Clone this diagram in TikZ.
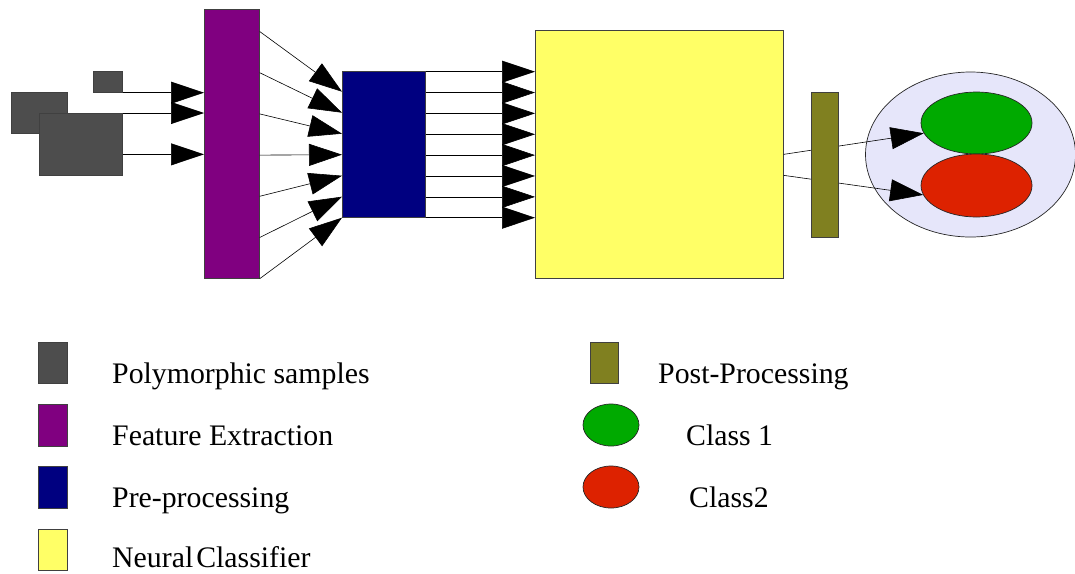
\documentclass[tikz,border=0pt]{standalone}
\usepackage{fontspec}
\setmainfont{Liberation Serif}
\usetikzlibrary{arrows.meta,shapes.geometric,calc}
\definecolor{sampgrey}{HTML}{4D4D4D}
\definecolor{featpurple}{HTML}{800080}
\definecolor{prenavy}{HTML}{000080}
\definecolor{nnyellow}{HTML}{FFFF66}
\definecolor{postolive}{HTML}{808020}
\definecolor{cgreen}{HTML}{00AA00}
\definecolor{cred}{HTML}{DD2200}
\definecolor{lavender}{HTML}{E6E6FA}
\tikzset{
  box/.style={rectangle, draw=black!75, line width=0.7pt, inner sep=0pt, anchor=north west},
  oval/.style={ellipse, draw=black!85, line width=0.7pt, inner sep=0pt},
  arr/.style={draw=black, line width=0.6pt, -{Triangle[length=33pt,width=22pt]}},
  lbl/.style={anchor=base west, inner sep=0pt, font=\fontsize{29.8}{34}\selectfont}
}
\begin{document}
\begin{tikzpicture}[x=1pt,y=-1pt]
\useasboundingbox (0,0) rectangle (1075,573);

% input samples
\node[box, fill=sampgrey, minimum width=56pt, minimum height=41pt] (ps2) at (11,92) {};
\node[box, fill=sampgrey, minimum width=83pt, minimum height=62pt] (ps3) at (39,113) {};
\node[box, fill=sampgrey, minimum width=29pt, minimum height=21pt] (ps1) at (93,71) {};

% processing stages
\node[box, fill=featpurple, minimum width=55pt, minimum height=269pt] (fe) at (204,9) {};
\node[box, fill=prenavy, minimum width=83pt, minimum height=146pt] (pp) at (342,71) {};
\node[box, fill=nnyellow, minimum width=248pt, minimum height=248pt] (nc) at (535,30) {};

% samples -> feature extraction
\draw[arr] (ps1.south east) -- (ps1.south east -| fe.west);
\draw[arr] (ps3.north east) -- (ps3.north east -| fe.west);
\coordinate (s3) at ([yshift=-10pt]ps3.east);
\draw[arr] (s3) -- (s3 -| fe.west);

% feature extraction -> pre-processing
\foreach \k in {0,...,6}{
  \draw[arr] ([yshift=41.2*\k pt]fe.south east) -- ([yshift=21*\k pt]pp.south west);
}

% pre-processing -> classifier
\foreach \k in {0,...,7}{
  \coordinate (b\k) at ([yshift=20.86*\k pt]pp.south east);
  \draw[arr] (b\k) -- (b\k -| nc.west);
}

% output classes
\node[oval, fill=lavender, minimum width=210pt, minimum height=165pt] (out) at (970.5,154.5) {};
\node[oval, fill=cgreen, minimum width=111pt, minimum height=62pt] (c1) at (976.5,123) {};
\node[oval, fill=cred, minimum width=111pt, minimum height=63pt] (c2) at (976.5,185.5) {};

\draw[arr] (nc.east) -- (c1.191);
\draw[arr] ([yshift=-21pt]nc.east) -- (c2.190);

% post-processing bar over the output lines
\node[box, fill=postolive, minimum width=27pt, minimum height=145pt] (post) at (811,92) {};

% legend, left column
\node[box, fill=sampgrey, minimum width=29pt, minimum height=41pt] (lg1) at (38,342) {};
\node[box, fill=featpurple, minimum width=29pt, minimum height=42pt] (lg2) at (38,404) {};
\node[box, fill=prenavy, minimum width=29pt, minimum height=42pt] (lg3) at (38,466) {};
\node[box, fill=nnyellow, minimum width=29pt, minimum height=41pt] (lg4) at (38,529) {};
\node[lbl] (t1) at (112,383) {Polymorphic samples};
\node[lbl] (t2) at (112,445) {Feature Extraction};
\node[lbl] (t3) at (112,507) {Pre-processing};
\node[lbl] (t4) at (112,567) {Neural\hspace{3pt}Classifier};

% legend, right column
\node[box, fill=postolive, minimum width=28pt, minimum height=41pt] (lg5) at (590,342) {};
\node[oval, fill=cgreen, minimum width=56pt, minimum height=42pt] (lg6) at (611,425) {};
\node[oval, fill=cred, minimum width=56pt, minimum height=42pt] (lg7) at (611,487) {};
\node[lbl] (t5) at (658,383) {Post-Processing};
\node[lbl] (t6) at (686,445) {Class 1};
\node[lbl] (t7) at (689,507) {Class2};
\end{tikzpicture}
\end{document}
